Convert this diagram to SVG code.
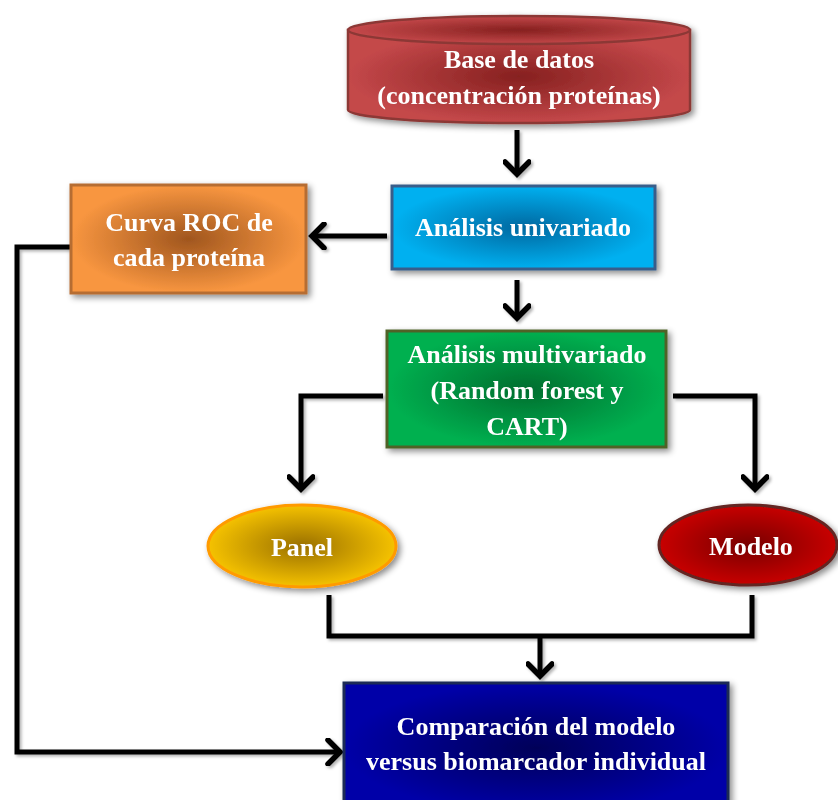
<svg xmlns="http://www.w3.org/2000/svg" width="838" height="800" viewBox="0 0 838 800">
<defs>
<filter id="sh" x="-20%" y="-20%" width="140%" height="140%">
<feDropShadow dx="3" dy="3" stdDeviation="3" flood-color="#000" flood-opacity="0.45"/>
</filter>
<filter id="lsh" x="-10%" y="-10%" width="120%" height="120%">
<feDropShadow dx="2" dy="2" stdDeviation="1.5" flood-color="#000" flood-opacity="0.3"/>
</filter>
<radialGradient id="gRed"><stop offset="0" stop-color="#86201f"/><stop offset="1" stop-color="#c4484a"/></radialGradient>
<radialGradient id="gBlue"><stop offset="0" stop-color="#0068a0"/><stop offset="1" stop-color="#00b0f0"/></radialGradient>
<radialGradient id="gOrange"><stop offset="0" stop-color="#a0561e"/><stop offset="1" stop-color="#f89640"/></radialGradient>
<radialGradient id="gGreen"><stop offset="0" stop-color="#006e2e"/><stop offset="1" stop-color="#00b050"/></radialGradient>
<radialGradient id="gGold"><stop offset="0" stop-color="#9a7000"/><stop offset="1" stop-color="#f5c200"/></radialGradient>
<radialGradient id="gMod"><stop offset="0" stop-color="#780000"/><stop offset="1" stop-color="#c80000"/></radialGradient>
<radialGradient id="gNavy"><stop offset="0" stop-color="#000058"/><stop offset="1" stop-color="#0000a8"/></radialGradient>
<marker id="arr" markerUnits="userSpaceOnUse" viewBox="0 0 20 28" markerWidth="20" markerHeight="28" refX="15" refY="14" orient="auto">
<path d="M3,2 L15,14 L3,26" fill="none" stroke="#000" stroke-width="5.5" stroke-linecap="round" stroke-linejoin="miter"/>
</marker>
<style>
.t{font-family:"Liberation Serif","Times New Roman",serif;font-weight:bold;font-size:26px;fill:#fff;text-anchor:middle}
.c{fill:none;stroke:#000;stroke-width:5}
</style>
</defs>
<g id="connectors" filter="url(#lsh)">
<path class="c" d="M517,130 V174" marker-end="url(#arr)"/>
<path class="c" d="M387,236 H312" marker-end="url(#arr)"/>
<path class="c" d="M517,280 V318" marker-end="url(#arr)"/>
<path class="c" d="M383,396 H301 V489" marker-end="url(#arr)"/>
<path class="c" d="M673,396 H755 V489" marker-end="url(#arr)"/>
<path class="c" d="M70,247 H17 V752 H340" marker-end="url(#arr)"/>
<path class="c" d="M329,595 V636 H752 V595"/>
<path class="c" d="M540,636 V676" marker-end="url(#arr)"/>
</g>
<g id="base-datos" filter="url(#sh)">
<path d="M348,30 V110 A171,13 0 0 0 690,110 V30 Z" fill="url(#gRed)" stroke="#8c3836" stroke-width="2.5"/>
<ellipse cx="519" cy="30" rx="171" ry="14" fill="url(#gRed)" stroke="#8c3836" stroke-width="2.5"/>
<text class="t" x="519" y="68">Base de datos</text>
<text class="t" x="519" y="104">(concentración proteínas)</text>
</g>
<g id="analisis-univariado" filter="url(#sh)">
<rect x="392" y="186" width="263" height="83" fill="url(#gBlue)" stroke="#385d8a" stroke-width="3"/>
<text class="t" x="523" y="236">Análisis univariado</text>
</g>
<g id="curva-roc" filter="url(#sh)">
<rect x="71" y="185" width="235" height="108" fill="url(#gOrange)" stroke="#b66d31" stroke-width="3"/>
<text class="t" x="189" y="231">Curva ROC de</text>
<text class="t" x="189" y="266">cada proteína</text>
</g>
<g id="analisis-multivariado" filter="url(#sh)">
<rect x="387" y="331" width="279" height="116" fill="url(#gGreen)" stroke="#4f6228" stroke-width="3"/>
<text class="t" x="527" y="363">Análisis multivariado</text>
<text class="t" x="527" y="399">(Random forest y</text>
<text class="t" x="527" y="435">CART)</text>
</g>
<g id="panel" filter="url(#sh)">
<ellipse cx="302" cy="546" rx="94" ry="41" fill="url(#gGold)" stroke="#ff9a00" stroke-width="3"/>
<text class="t" x="302" y="556">Panel</text>
</g>
<g id="modelo" filter="url(#sh)">
<ellipse cx="748" cy="545" rx="89" ry="40" fill="url(#gMod)" stroke="#632523" stroke-width="3"/>
<text class="t" x="751" y="555">Modelo</text>
</g>
<g id="comparacion" filter="url(#sh)">
<rect x="344" y="683" width="384" height="130" fill="url(#gNavy)" stroke="#1a2a55" stroke-width="3"/>
<text class="t" x="536" y="735">Comparación del modelo</text>
<text class="t" x="536" y="770">versus biomarcador individual</text>
</g>
</svg>
